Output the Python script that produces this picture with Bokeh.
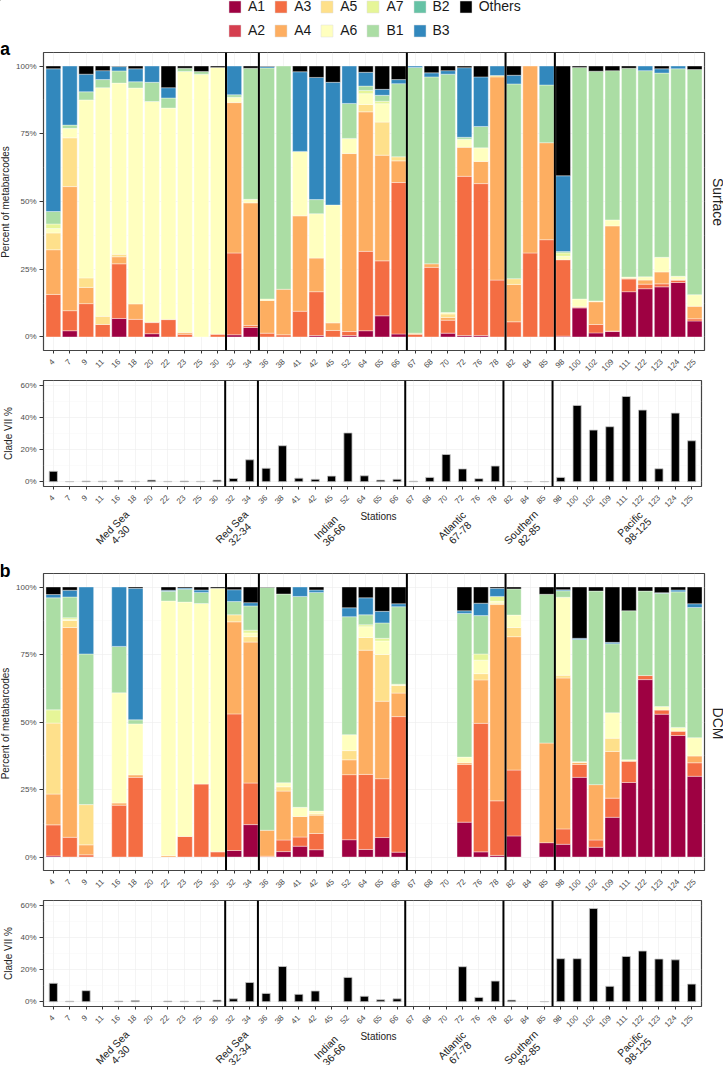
import math
import numpy as np
from bokeh.core.properties import value
from bokeh.embed import file_html
from bokeh.resources import INLINE
from bokeh.plotting import figure
from bokeh.layouts import column
from bokeh.models import (FactorRange, Range1d, Span, FixedTicker, Legend, LegendItem, CustomJSTickFormatter)

stations = ["4","7","9","11","16","18","20","22","23","25","30","32","34","36","38","41","42","45","52","64",
            "65","66","67","68","70","72","76","78","82","84","85","98","100","102","109","111","122","123","124","125"]
series_names = ["A1","A2","A3","A4","A5","A6","A7","B1","B2","B3","Others"]
series_colors = ["#9E0142","#D53E4F","#F46D43","#FDAE61","#FEE08B","#FFFFBF","#E6F598","#ABDDA4","#66C2A5","#3288BD","#000000"]
group_breaks = [11, 13, 22, 28, 31]
group_names = ["Med Sea", "Red Sea", "Indian", "Atlantic", "Southern", "Pacific"]
group_ranges = ["4-30", "32-34", "36-66", "67-78", "82-85", "98-125"]
percent_ticks = [0, 25, 50, 75, 100]
clade_ticks = [0, 20, 40, 60]

# Panel a, Surface
surf_A1 = [0,2.3,0,0,6.8,0,1.2,0,0,0,0,0.8,3.5,0,0,0,0.5,0,0.5,2.3,7.8,1.1,0,0,1.4,0.5,0.5,0,0,0,0,0.3,10.7,1.5,2,16.7,17.8,18.5,20.1,5.9]
surf_A2 = [0]*40
surf_A3 = [15.7,7.4,12.3,4.6,20.2,6.5,4.1,6.4,1,0,1,30.2,0.7,1.4,0.8,9.5,16.2,2.4,1.5,29.3,20.3,55.9,1,25.7,4.8,58.8,56.1,21,5.6,31,35.9,28.2,0.3,3.1,0.2,4.7,1.7,1.1,0.8,0.8]
surf_A4 = [16.5,45.8,6,0,2.6,5.7,0.2,0,0.6,0,0,55.5,45.3,12.1,16.8,35.2,12.4,2.8,65.7,51.5,39,8,0,1.3,1,10.7,8.2,75,13.8,69,35.8,0,0.2,8.4,38.8,0.3,1.5,4.4,0.3,4.6]
surf_A5 = [6.2,18,3.5,3,0.9,0,0,0,0,0,0,0,0,0,0,0,0,0,0,2.7,12.2,1.5,0.4,0,1.3,0,0,0.5,2.1,0,0,0,0,0,0,0,0,0,0,0]
surf_A6 = [1.6,3.5,65.7,84.4,63.2,79.7,81.4,78.1,96.4,97,98.5,2,1.3,0.5,0,23.8,16.4,43.5,5.6,4,6.8,0,0,0,0.5,3,5,0,0,0,0,1.3,2.8,0.3,2.2,0.4,1.2,5.4,1.2,4.3]
surf_A7 = [1.7,0,0,0,0,0,0,0,0,0,0,0,0,0,0,0,0,0,0,1.2,0.9,0,0,0,0,0,0,0,0,0,0,1.2,0,0,0,0,0,0,0,0]
surf_B1 = [4.6,1.2,3,3,4.5,2.3,7.1,3.7,1.2,1,0,0.9,48.4,85.3,82.4,0,5.2,0,12.9,1.6,2.2,27,98.1,69,88,0.7,7.9,0,71.9,0,21.3,0.5,85.5,84.8,55.1,77.1,76.1,68,76.6,83.1]
surf_B2 = [0]*40
surf_B3 = [52.7,21.8,6.5,3.3,1.6,4.8,6,3.8,0,0,0,10.6,0,0.5,0,29.4,45.1,45.3,13.8,5.1,2.2,1.5,0.5,1.5,1.3,25.7,18.3,3.5,3.2,0,7,28,0,0,0,0,1.7,1.6,1,0]
surf_Others = [1,0,3,1.7,0.2,1,0,8,0.8,2,0.5,0,0.8,0.2,0,2.1,4.2,6,0,2.3,8.6,5,0,2.5,1.7,0.6,4,0,3.4,0,0,40.5,0.5,1.9,1.7,0.8,0,1,0,1.3]
surf_clade = [6.5,0.1,0.4,0.3,0.7,0.2,1,0.2,0.4,0.2,1,2,13.7,8.4,22.5,2.2,1.5,3.5,30.5,3.7,1,1.5,0.3,2.7,17,8,1.9,9.8,0.2,0.1,0.1,2.7,47.7,32.3,34.4,53.3,44.8,8.1,42.9,25.6]

# Panel b, DCM
dcm_A1 = [.4,0,0,0,0,0,0,0,0,0,0,2.4,12,0,2,4,2.7,0,6.4,2.8,7.2,1.8,0,0,0,12.9,1.9,.6,7.8,0,5.3,4.7,29.5,3.6,14.7,27.6,65.7,52.9,45,29.9]
dcm_A2 = [0]*40
dcm_A3 = [11.5,7.3,.8,0,19.2,29.5,0,0,7.6,27,1.9,50.6,15.4,.3,4.3,3.4,6,0,24.1,27.8,21.8,50.2,0,0,0,21.4,47.6,20.2,24.4,0,0,5.7,4.8,2.7,7.1,7.9,1.5,1.5,1.6,5]
dcm_A4 = [11.4,77.7,3.7,0,.8,.9,0,.5,0,0,0,34.1,52.2,9.6,18.1,7.6,6.8,0,5.5,46,28.7,8.7,0,0,0,.6,16.1,72.7,49.4,0,36.9,55.9,.7,20.5,17.3,0,0,0,0,2.5]
dcm_A5 = [26.3,2.6,14.9,0,0,0,0,0,0,0,0,2.6,2,0,1.6,0,.5,0,3.4,4.7,17.3,2.8,0,0,0,0,2.3,.5,3.4,0,0,1,0,0,4.9,0,0,0,0,0]
dcm_A6 = [0,.4,0,0,40.8,18.9,0,94.3,86.8,66.9,97.6,0,1.4,0,1.5,3.4,1,0,5.9,4,5,.5,0,0,0,2.1,5,.7,4.6,0,0,28.9,.3,0,9.4,.5,0,1.3,1.4,6.8]
dcm_A7 = [4.9,.6,0,0,0,0,0,0,0,0,0,0,1,0,0,0,0,0,0,.7,1,0,0,0,0,0,2.3,1.8,0,0,0,0,0,0,0,0,0,0,0,0]
dcm_B1 = [41.5,7.7,55.8,0,17.2,1.5,0,3.6,4.8,4.1,0,4.9,9,89.9,69.9,78.1,81,0,43.7,3.7,5.7,28.7,0,0,0,53.2,14.2,0,9.7,0,55.1,2.4,45.3,71.7,25.6,55.2,31.3,42,50.2,48.2]
dcm_B2 = [0]*40
dcm_B3 = [1.2,2.5,24.8,0,22,48.7,0,.4,.4,.9,0,4.4,1.2,0,0,3.5,.9,0,3.3,6.3,4.3,1.1,0,0,0,1,4.6,3,0,0,0,.4,.4,0,.5,0,0,.2,.7,1.4]
dcm_Others = [2.8,1.2,0,0,0,.5,0,1.2,.4,1.1,.5,1,5.8,.2,2.6,0,1.1,0,7.7,4,9,6.2,0,0,0,8.8,6,.5,.7,0,2.7,1,19,1.5,20.5,8.8,1.5,2.1,1.1,6.2]
dcm_clade = [11.5,0.3,6.9,0,0.4,0.7,0,0.4,0.3,0.3,1,1.8,12,5.2,22,4.6,6.7,0,15.2,3.4,1.2,1.8,0,0,0,21.9,2.7,12.9,1,0,0.1,26.9,26.9,58.3,9.6,28.3,31.7,26.7,26.2,11]

surf_all = [surf_A1,surf_A2,surf_A3,surf_A4,surf_A5,surf_A6,surf_A7,surf_B1,surf_B2,surf_B3,surf_Others]
dcm_all = [dcm_A1,dcm_A2,dcm_A3,dcm_A4,dcm_A5,dcm_A6,dcm_A7,dcm_B1,dcm_B2,dcm_B3,dcm_Others]

WIN_W = 723
WIN_H = 1065
FONT = "Liberation Sans"
TICK_COL = "#4d4d4d"
FRAME_COL = "#444444"
GRID_COL = "#ececec"
GRID_MINOR = "#f5f5f5"


def base_fig(band_top, band_bottom, frame_top, frame_bottom, frame_right, y_start, y_end, ticks, minor):
    p = figure(width=WIN_W, height=band_bottom - band_top, output_backend="svg", toolbar_location=None,
               x_range=FactorRange(factors=stations, range_padding=0.1, range_padding_units="absolute"),
               y_range=Range1d(y_start, y_end), frame_align=False,
               min_border_left=43, min_border_right=WIN_W - frame_right,
               min_border_top=frame_top - band_top, min_border_bottom=band_bottom - frame_bottom,
               outline_line_color=FRAME_COL, outline_line_width=1.2, background_fill_color="white",
               border_fill_color=None)
    p.xaxis.major_label_orientation = math.pi / 4
    p.xaxis.major_label_text_font_size = "8px"
    p.xaxis.major_label_text_font = FONT
    p.xaxis.major_label_text_color = TICK_COL
    p.xaxis.major_label_standoff = 7
    p.xaxis.axis_line_color = None
    p.xaxis.major_tick_line_color = "#333333"
    p.xaxis.major_tick_in = 0
    p.xaxis.major_tick_out = 3
    p.xaxis.minor_tick_line_color = None
    p.yaxis.ticker = FixedTicker(ticks=ticks, minor_ticks=minor)
    p.yaxis.formatter = CustomJSTickFormatter(code="return tick + '%';")
    p.yaxis.major_label_text_font_size = "8px"
    p.yaxis.major_label_text_font = FONT
    p.yaxis.major_label_text_color = TICK_COL
    p.yaxis.major_label_standoff = 3
    p.yaxis.axis_line_color = None
    p.yaxis.major_tick_line_color = "#333333"
    p.yaxis.major_tick_in = 0
    p.yaxis.major_tick_out = 4
    p.yaxis.minor_tick_line_color = None
    p.xgrid.grid_line_color = GRID_COL
    p.xgrid.grid_line_width = 0.6
    p.ygrid.grid_line_color = GRID_COL
    p.ygrid.grid_line_width = 0.6
    p.ygrid.minor_grid_line_color = GRID_MINOR
    p.ygrid.minor_grid_line_width = 0.4
    for b in group_breaks:
        p.add_layout(Span(location=b, dimension="height", line_color="black", line_width=2))
    return p


def stack_fig(band_top, band_bottom, frame_top, frame_bottom, frame_right, data):
    p = base_fig(band_top, band_bottom, frame_top, frame_bottom, frame_right, -5, 105, percent_ticks,
                 [12.5, 37.5, 62.5, 87.5])
    arr = np.array(data, dtype=float)
    tops = np.cumsum(arr, axis=0)
    bottoms = tops - arr
    for i, col in enumerate(series_colors):
        keep = arr[i] > 0
        if not keep.any():
            continue
        xs = [s for s, k in zip(stations, keep) if k]
        p.vbar(x=xs, top=tops[i][keep].tolist(), bottom=bottoms[i][keep].tolist(), width=0.9,
               fill_color=col, line_color="white", line_width=0.5, line_alpha=0.75)
    return p


def clade_fig(band_top, band_bottom, frame_top, frame_bottom, values):
    p = base_fig(band_top, band_bottom, frame_top, frame_bottom, 701, -3, 63.3, clade_ticks, [10, 30, 50])
    keep = [(s, v) for s, v in zip(stations, values) if v > 0]
    p.vbar(x=[k[0] for k in keep], top=[k[1] for k in keep], bottom=0, width=0.5,
           fill_color="black", line_color="#c8c8c8", line_width=0.8)
    return p


# Transparent sheet over the whole page: legend, panel letters, titles of axes and of the ocean groups
sheet = figure(width=WIN_W, height=WIN_H, output_backend="svg", toolbar_location=None,
               x_range=Range1d(0, WIN_W), y_range=Range1d(WIN_H, 0), min_border=0, outline_line_color=None,
               border_fill_color=None, background_fill_color=None, frame_align=False,
               margin=(-WIN_H, 0, 0, 0))
sheet.axis.visible = False
sheet.grid.visible = False


def put_text(x, y, text, size, angle=0.0, color="#222222", style="normal"):
    sheet.text(x=[x], y=[y], text=[text], angle=angle, text_font=value(FONT), text_font_size=size,
               text_font_style=style, text_color=color, text_align="center", text_baseline="middle")


items = []
for n, c in zip(series_names, series_colors):
    r = sheet.vbar(x=[-50], top=[-60], bottom=[-50], width=1, fill_color=c, line_color="#dddddd", line_width=0.5)
    items.append(LegendItem(label=n, renderers=[r]))
sheet.add_layout(Legend(items=items, orientation="vertical", nrows=2, ncols=6, glyph_width=15, glyph_height=15,
                        label_standoff=6, spacing=8, padding=0, margin=0, border_line_color=None,
                        background_fill_color=None, label_text_font=FONT, label_text_font_size="14px",
                        label_text_color="#1a1a1a", location=(227, WIN_H - 38), label_height=15, label_width=1))

for letter, y in [("a", 48.5), ("b", 570)]:
    put_text(4.5, y, letter, "18px", color="black", style="bold")
for side, y in [("Surface", 201.5), ("DCM", 723)]:
    put_text(717, y, side, "14px", angle=-math.pi / 2)
for y in (201.5, 723):
    put_text(4.5, y, "Percent of metabarcodes", "10px", angle=math.pi / 2)
for y in (433, 953):
    put_text(8, y, "Clade VII %", "10px", angle=math.pi / 2)
name_spots = [(111.7, 526.7), (231, 526.3), (325.2, 526.7), (451.3, 524.7), (520.3, 526.7), (629.3, 523.3)]
for y_st, dy in [(515.5, 0), (1036, 520)]:
    put_text(378, y_st, "Stations", "10px")
    for (px, py), nm, rg in zip(name_spots, group_names, group_ranges):
        put_text(px, py + dy, nm, "10.5px", angle=math.pi / 4)
        put_text(px + 8, py + dy + 7.3, rg, "10.5px", angle=math.pi / 4)

fig_a = stack_fig(40, 376, 52, 351, 704, surf_all)
clade_a = clade_fig(376, 560, 380, 486, surf_clade)
fig_b = stack_fig(560, 896, 573, 873, 704, dcm_all)
clade_b = clade_fig(896, 1065, 900, 1006, dcm_clade)
fig_a.margin = (40, 0, 0, 0)

page = column(fig_a, clade_a, fig_b, clade_b, sheet, spacing=0, margin=0)
open("out.html", "w").write(file_html(page, INLINE))
